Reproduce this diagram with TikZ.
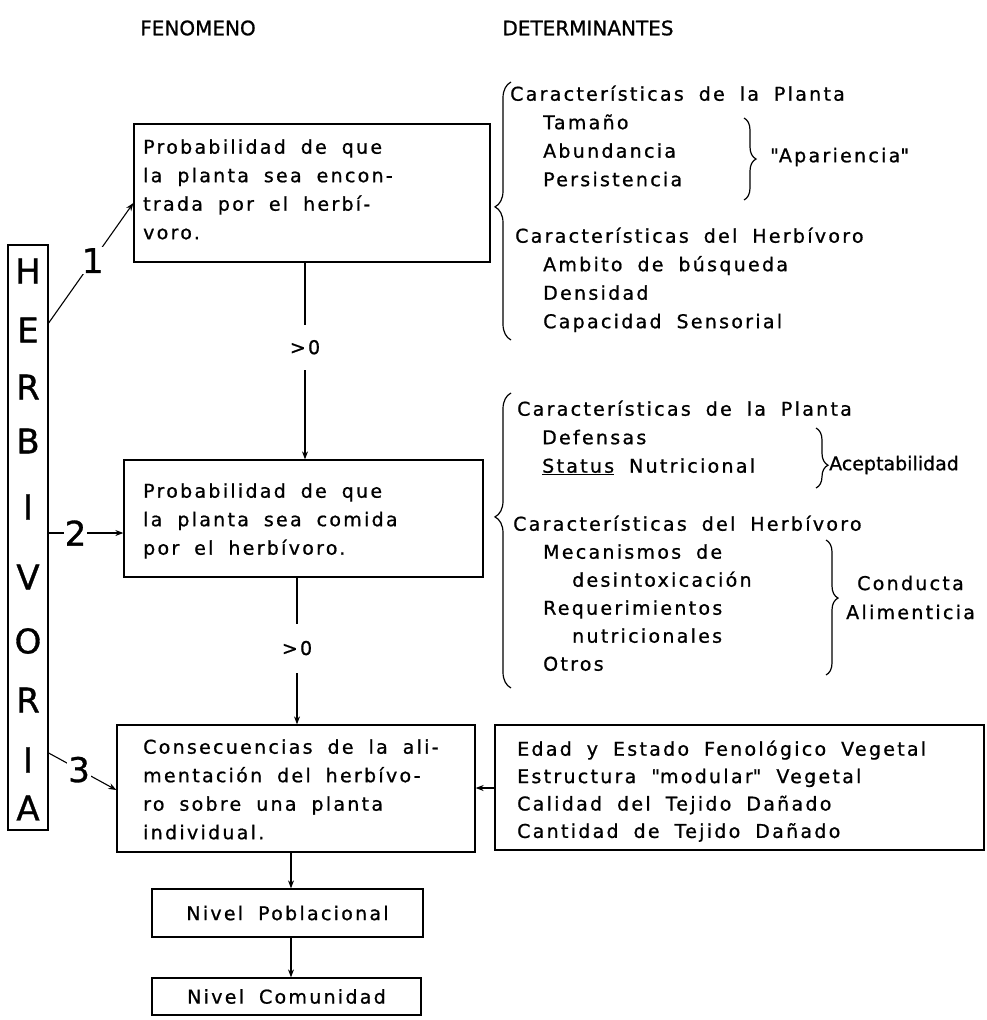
\documentclass[tikz,border=0pt]{standalone}
\usepackage{fontspec}
\setmainfont{DejaVu Sans}[LetterSpace=12, WordSpace=1.8, FakeBold=0.9]
\newfontfamily\hdfont{DejaVu Sans}[FakeBold=0.9]
\usetikzlibrary{decorations.pathreplacing,arrows.meta}
\newcommand{\mystrut}{\rule{0pt}{20pt}}
\begin{document}
\begin{tikzpicture}[x=1pt,y=-1pt,
  box/.style={draw, line width=1.3pt, inner sep=0pt},
  txt/.style={anchor=north west, inner sep=0pt, align=left, font=\fontsize{19}{28.5}\selectfont},
  lbl/.style={inner sep=0pt, font=\fontsize{19}{20}\selectfont},
  hd/.style={inner sep=0pt, font=\hdfont\fontsize{20}{22}\selectfont},
  big/.style={inner sep=0pt, font=\hdfont\fontsize{34}{34}\selectfont},
  num/.style={inner sep=1pt, fill=white, font=\hdfont\fontsize{34}{34}\selectfont},
  arr/.style={line width=1.1pt, -{Stealth[length=8pt,width=6pt]}},
  br/.style={line width=1.2pt, decorate, decoration={brace, amplitude=#1}},
  br/.default=12pt]
\useasboundingbox (0,0) rectangle (987,1020);
\fill[white] (0,0) rectangle (987,1020);

% headers
\node[hd] (hfen) at (198,28) {FENOMENO};
\node[hd] (hdet) at (588,28) {DETERMINANTES};

% HERBIVORA column
\node[box, minimum width=40pt, minimum height=585pt] (herb) at (28,537.5) {};
\foreach \l/\y [count=\i] in {H/271,E/330,R/387,B/441,I/507,V/577,O/641,R/700,I/760,A/808}
  \node[big] (L\i) at (28,\y) {\l};

% boxes
\node[box, minimum width=356pt, minimum height=138pt] (b1) at (312,193) {};
\node[box, minimum width=359pt, minimum height=117pt] (b2) at (303.5,518.5) {};
\node[box, minimum width=358pt, minimum height=127pt] (b3) at (296,788.5) {};
\node[box, minimum width=489pt, minimum height=125pt] (bR) at (739.5,787.5) {};
\node[box, minimum width=271pt, minimum height=48pt] (pob) at (287.5,913) {};
\node[box, minimum width=269pt, minimum height=37pt] (com) at (286.5,996.5) {};

% box texts
\node[txt] (t1) at (143,133.5) {\mystrut Probabilidad de que\\la planta sea encon-\\trada por el herbí-\\voro.};
\node[txt] (t2) at (143,477.5) {\mystrut Probabilidad de que\\la planta sea comida\\por el herbívoro.};
\node[txt] (t3) at (143,733.5) {\mystrut Consecuencias de la ali-\\mentación del herbívo-\\ro sobre una planta\\individual.};
\node[txt, font=\fontsize{19}{27.4}\selectfont] (tR) at (517,735.5) {\mystrut Edad y Estado Fenológico Vegetal\\Estructura \textquotedbl modular\textquotedbl\ Vegetal\\Calidad del Tejido Dañado\\Cantidad de Tejido Dañado};
\node[lbl] (tpob) at (pob) {Nivel Poblacional};
\node[lbl] (tcom) at (com) {Nivel Comunidad};

% determinants, section 1
\node[txt] (dA) at (510,80.5) {\mystrut Características de la Planta\\\hspace*{33pt}Tamaño\\\hspace*{33pt}Abundancia\\\hspace*{33pt}Persistencia};
\node[lbl, anchor=west] (dAp) at (770,157) {\textquotedbl Apariencia\textquotedbl};
\node[txt] (dB) at (515,222.5) {\mystrut Características del Herbívoro\\\hspace*{28pt}Ambito de búsqueda\\\hspace*{28pt}Densidad\\\hspace*{28pt}Capacidad Sensorial};

% determinants, section 2
\node[txt] (dC) at (517,395.5) {\mystrut Características de la Planta\\\hspace*{25pt}Defensas\\\hspace*{25pt}\underline{Status} Nutricional};
\node[lbl, anchor=west, font=\hdfont\fontsize{19}{20}\selectfont] (dAc) at (829,465) {Aceptabilidad};
\node[txt, font=\fontsize{19}{28}\selectfont] (dD) at (513,510.5) {\mystrut Características del Herbívoro\\\hspace*{30pt}Mecanismos de\\\hspace*{59pt}desintoxicación\\\hspace*{30pt}Requerimientos\\\hspace*{59pt}nutricionales\\\hspace*{30pt}Otros};
\node[lbl, anchor=west] (dCo) at (857,583) {Conducta};
\node[lbl, anchor=west] (dAl) at (846,612) {Alimenticia};

% braces
\draw[br=16pt, decoration={aspect=0.516}] (511,340) -- (511,82);
\draw[br] (744,118) -- (744,200);
\draw[br=16pt, decoration={aspect=0.58}] (511,688) -- (511,393);
\draw[br, decoration={aspect=0.62}] (816,428) -- (816,488);
\draw[br, decoration={aspect=0.43}] (826,540) -- (826,675);

% connectors from HERBIVORA
\draw[arr] (herb.east |- 0,323) -- node[num, pos=0.52] (n1) {1} (b1.west |- 0,203);
\draw[arr] (herb.east |- 0,533) -- node[num, pos=0.36] (n2) {2} (b2.west |- 0,533);
\draw[arr] (herb.east |- 0,753) -- node[num, pos=0.45] (n3) {3} (b3.west |- 0,790);

% vertical flow
\draw[arr] (b1.south -| 305,0) -- node[lbl, fill=white, minimum height=45pt, pos=0.43] (g1) {>0} (b2.north -| 305,0);
\draw[arr] (b2.south -| 297,0) -- node[lbl, fill=white, minimum height=49pt, pos=0.48] (g2) {>0} (b3.north -| 297,0);
\draw[arr] (b3.south -| 291,0) -- (pob.north -| 291,0);
\draw[arr] (pob.south -| 291,0) -- (com.north -| 291,0);
\draw[arr] (bR.west |- 0,788) -- (b3.east |- 0,788);
\end{tikzpicture}
\end{document}
